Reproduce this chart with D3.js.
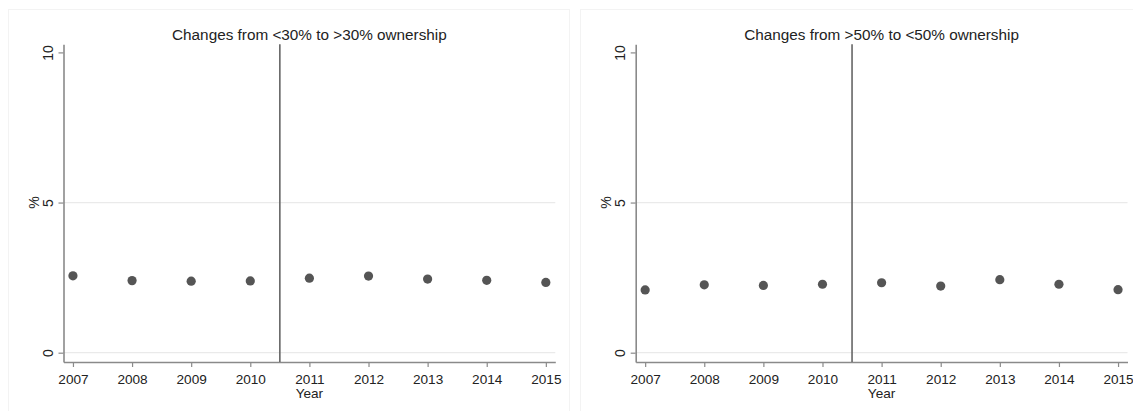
<!DOCTYPE html>
<html>
<head>
<meta charset="utf-8">
<script src="https://cdn.jsdelivr.net/npm/d3@7"></script>
<style>
  html, body { margin: 0; padding: 0; background: #fff; }
  svg { display: block; font-family: "Liberation Sans", Arial, sans-serif; }
</style>
</head>
<body>
<svg id="chart" width="1133" height="411"></svg>
<script>
// Share of firms changing ownership class, by year (%)
const years = [2007, 2008, 2009, 2010, 2011, 2012, 2013, 2014, 2015];
const below30ToAbove30 = [2.56, 2.40, 2.38, 2.39, 2.48, 2.55, 2.45, 2.41, 2.34];
const above50ToBelow50 = [2.09, 2.26, 2.24, 2.28, 2.33, 2.22, 2.43, 2.28, 2.10];
const panelTitles = [
  "Changes from <30% to >30% ownership",
  "Changes from >50% to <50% ownership"
];
const yTicks = [0, 5, 10];
const cutoffYear = 2010.5;

const svg = d3.select("#chart");

const panels = [
  { title: panelTitles[0], values: below30ToAbove30, frameX: 8, left: 63.5 },
  { title: panelTitles[1], values: above50ToBelow50, frameX: 580, left: 635.7 }
];

const plotW = 491.8;
const plotTop = 44.3, plotBottom = 362;

panels.forEach(p => {
  const g = svg.append("g");

  // faint panel frame
  g.append("rect")
    .attr("x", p.frameX + 0.5).attr("y", 9.5)
    .attr("width", 561).attr("height", 420)
    .attr("fill", "none").attr("stroke", "#f3f3f3").attr("stroke-width", 1);

  const x = d3.scaleLinear().domain([2006.84, 2015.16]).range([p.left, p.left + plotW]);
  const y = d3.scaleLinear().domain([-0.31, 10.27]).range([plotBottom, plotTop]);

  // horizontal gridlines
  g.selectAll(".grid").data(yTicks.filter(t => t < 10)).join("line")
    .attr("x1", p.left).attr("x2", p.left + plotW)
    .attr("y1", d => y(d)).attr("y2", d => y(d))
    .attr("stroke", "#eaeaea").attr("stroke-width", 1.2);

  // y axis
  const yAxis = g.append("g").attr("transform", `translate(${p.left},0)`)
    .call(d3.axisLeft(y).tickValues(yTicks).tickSize(5).tickPadding(6).tickSizeOuter(0));
  yAxis.select(".domain").attr("stroke", "#8a8a8a").attr("stroke-width", 1.6);
  yAxis.selectAll(".tick line").attr("stroke", "#8a8a8a").attr("stroke-width", 1.2);
  yAxis.selectAll(".tick text")
    .attr("x", null).attr("dy", null)
    .attr("transform", "translate(-10.5,0) rotate(-90)")
    .attr("text-anchor", "middle")
    .attr("font-size", 14).attr("fill", "#222")
    .attr("font-family", "Liberation Sans, Arial, sans-serif");

  // x axis
  const xAxis = g.append("g").attr("transform", `translate(0,${plotBottom})`)
    .call(d3.axisBottom(x).tickValues(years).tickFormat(d3.format("d")).tickSize(5).tickPadding(4).tickSizeOuter(0));
  xAxis.select(".domain").attr("stroke", "#8a8a8a").attr("stroke-width", 1.6);
  xAxis.selectAll(".tick line").attr("stroke", "#8a8a8a").attr("stroke-width", 1.2);
  xAxis.selectAll(".tick text")
    .attr("y", 21.5).attr("dy", null)
    .attr("font-size", 13.6).attr("fill", "#222")
    .attr("font-family", "Liberation Sans, Arial, sans-serif");

  // y axis title
  g.append("text")
    .attr("transform", `translate(${p.left - 24.5},${y(5)}) rotate(-90)`)
    .attr("text-anchor", "middle")
    .attr("font-size", 14).attr("fill", "#222")
    .text("%");

  // x axis title
  g.append("text")
    .attr("x", p.left + plotW / 2).attr("y", 398)
    .attr("text-anchor", "middle")
    .attr("font-size", 13.6).attr("fill", "#222")
    .text("Year");

  // panel title
  g.append("text")
    .attr("x", p.left + plotW / 2).attr("y", 40)
    .attr("text-anchor", "middle")
    .attr("font-size", 15.3).attr("fill", "#222")
    .text(p.title);

  // cutoff line
  g.append("line")
    .attr("x1", x(cutoffYear)).attr("x2", x(cutoffYear))
    .attr("y1", plotTop).attr("y2", plotBottom)
    .attr("stroke", "#666").attr("stroke-width", 1.6);

  // points
  g.selectAll(".pt").data(years.map((yr, i) => ({ yr, v: p.values[i] }))).join("circle")
    .attr("cx", d => x(d.yr)).attr("cy", d => y(d.v))
    .attr("r", 4.6)
    .attr("fill", "#555");
});
</script>
</body>
</html>
